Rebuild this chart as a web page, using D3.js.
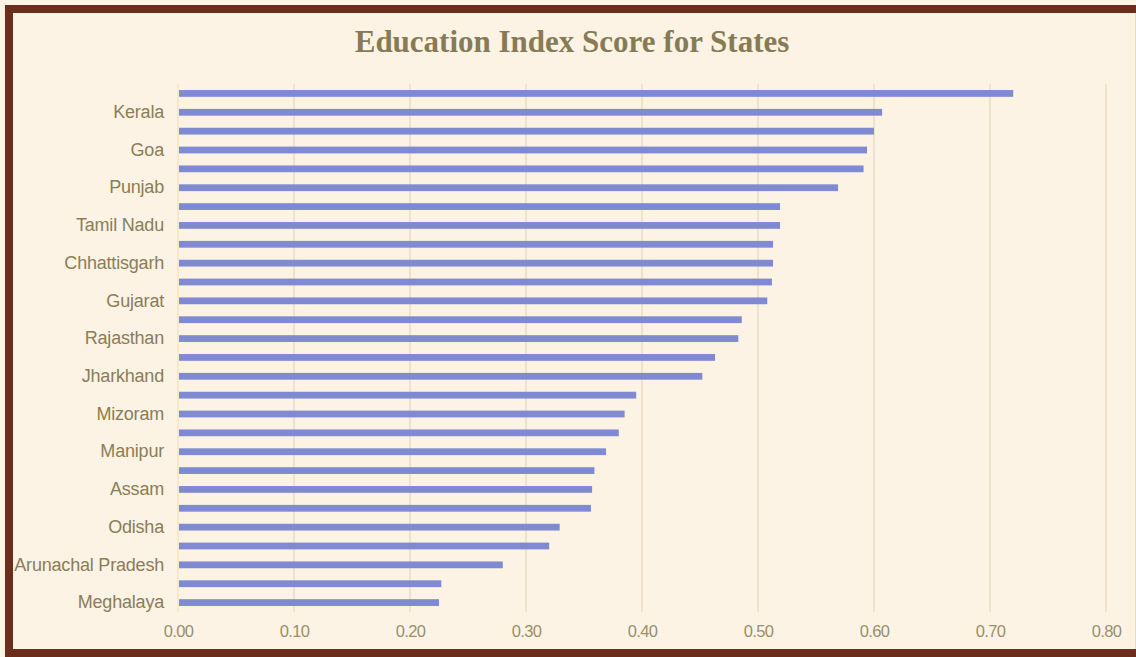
<!DOCTYPE html>
<html>
<head>
<meta charset="utf-8">
<script src="https://cdn.jsdelivr.net/npm/d3@7"></script>
<style>
  html, body { margin: 0; padding: 0; background: #fdf3e4; }
  svg { display: block; }
</style>
</head>
<body>
<svg id="chart" width="1136" height="657"></svg>
<script>
// Education index score per state, top to bottom (labels shown on every other bar)
const stateLabels = [
  "", "Kerala", "", "Goa ", "", "Punjab", "", "Tamil Nadu", "", "Chhattisgarh",
  "", "Gujarat", "", "Rajasthan", "", "Jharkhand", "", "Mizoram", "", "Manipur",
  "", "Assam", "", "Odisha", "", "Arunachal Pradesh", "", "Meghalaya"
];
const scores = [
  0.720, 0.607, 0.600, 0.594, 0.591, 0.569, 0.519, 0.519, 0.513, 0.513,
  0.512, 0.508, 0.486, 0.483, 0.463, 0.452, 0.395, 0.385, 0.380, 0.369,
  0.359, 0.357, 0.356, 0.329, 0.320, 0.280, 0.227, 0.225
];
const xTicks = [0, 0.1, 0.2, 0.3, 0.4, 0.5, 0.6, 0.7, 0.8];
const chartTitle = "Education Index Score for States";

const svg = d3.select("#chart");
const W = 1136, H = 657;

// background and frame
svg.append("rect").attr("width", W).attr("height", H).attr("fill", "#fdf3e4");
svg.append("rect")
  .attr("x", 9).attr("y", 9)
  .attr("width", W + 20).attr("height", H - 13)
  .attr("fill", "none").attr("stroke", "#6b2e1c").attr("stroke-width", 8);
svg.append("line")
  .attr("x1", W - 0.5).attr("x2", W - 0.5).attr("y1", 13).attr("y2", H - 8)
  .attr("stroke", "#e9dccb").attr("stroke-width", 1);

const x = d3.scaleLinear().domain([0, 0.8]).range([178, 1106]);
const idx = d3.range(scores.length);
const y = d3.scaleBand().domain(idx).range([84, 612]).paddingInner(0.64).paddingOuter(0.32);

// vertical gridlines
svg.append("g").selectAll("line").data(xTicks).join("line")
  .attr("x1", d => x(d)).attr("x2", d => x(d))
  .attr("y1", 84).attr("y2", 612)
  .attr("stroke", d => d === 0 ? "#f1e3b6" : "#e6d7bc")
  .attr("stroke-width", 1.2);

// bars
svg.append("g").selectAll("rect").data(idx).join("rect")
  .attr("x", x(0) + 1)
  .attr("y", i => y(i))
  .attr("width", i => x(scores[i]) - x(0) - 1)
  .attr("height", y.bandwidth())
  .attr("fill", "#7f8ad3");

// category axis
const yAxis = d3.axisLeft(y).tickSize(0).tickPadding(14).tickFormat(i => stateLabels[i]);
const gy = svg.append("g").attr("transform", `translate(${x(0)},0)`).call(yAxis);
gy.select(".domain").remove();
gy.selectAll("text")
  .attr("font-family", "Liberation Sans, Arial, sans-serif")
  .attr("font-size", 18)
  .attr("letter-spacing", -0.2)
  .attr("fill", "#8a7d58");

// value axis
const xAxis = d3.axisBottom(x).tickValues(xTicks).tickSize(0).tickPadding(13).tickFormat(d3.format(".2f"));
const gx = svg.append("g").attr("transform", "translate(0,612)").call(xAxis);
gx.select(".domain").remove();
gx.selectAll("text")
  .attr("font-family", "Liberation Sans, Arial, sans-serif")
  .attr("font-size", 16.5)
  .attr("letter-spacing", -0.6)
  .attr("fill", "#9a8e6c");

// title
svg.append("text")
  .attr("x", 572).attr("y", 52)
  .attr("text-anchor", "middle")
  .attr("font-family", "Liberation Serif, Times New Roman, serif")
  .attr("font-weight", "bold")
  .attr("font-size", 31)
  .attr("fill", "#877b55")
  .text(chartTitle);
</script>
</body>
</html>
